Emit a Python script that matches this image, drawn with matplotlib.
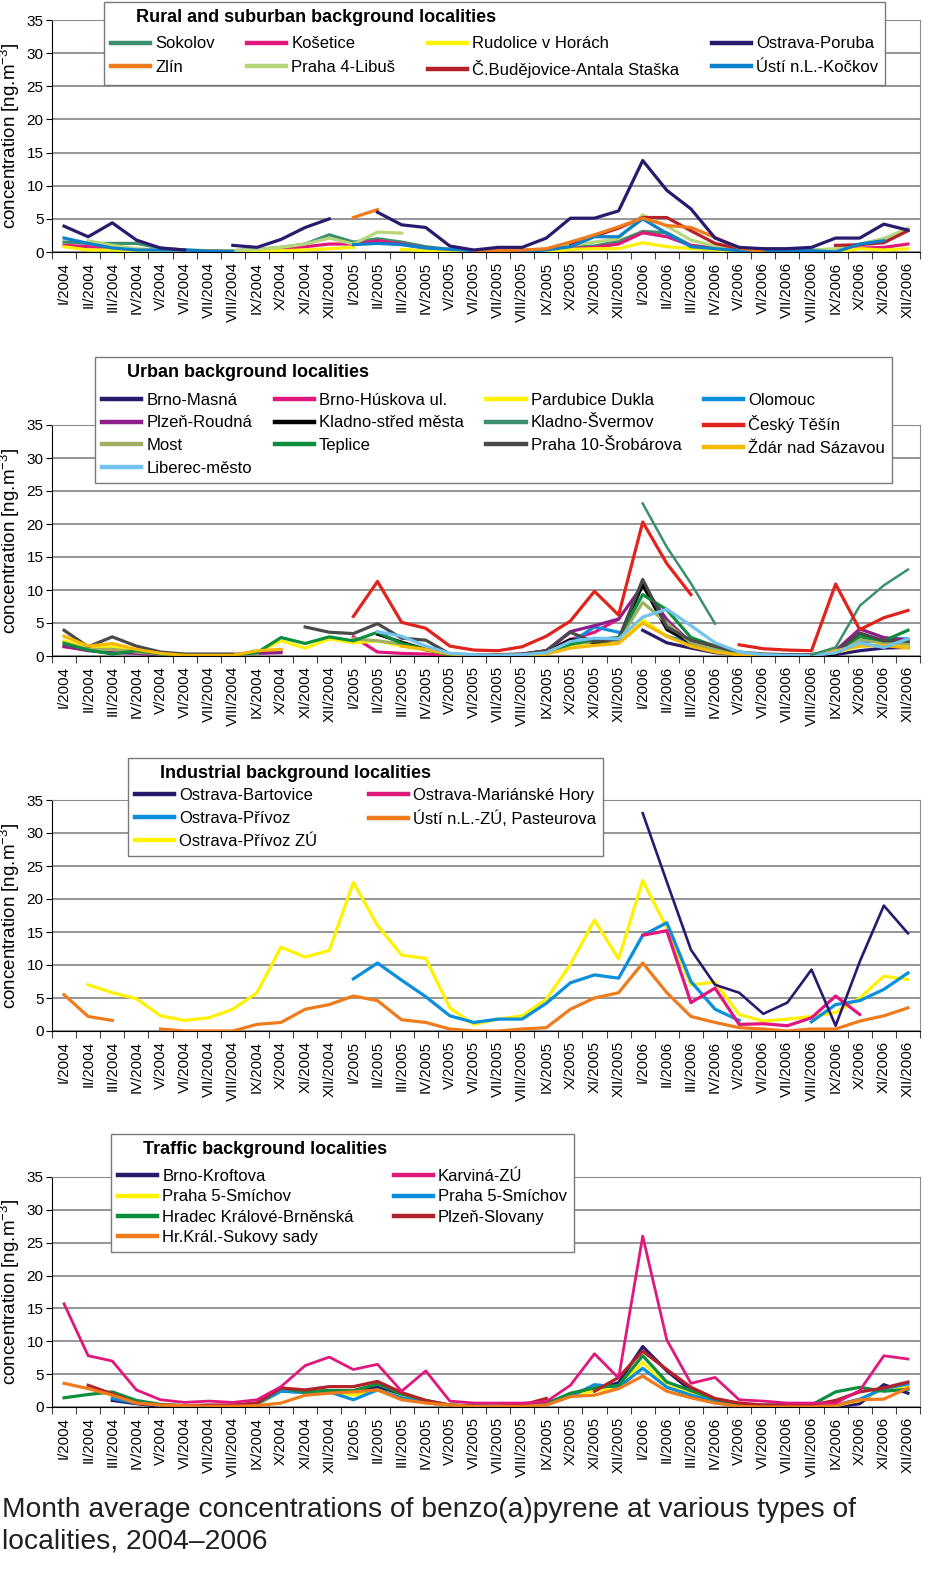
import numpy as np
import matplotlib
matplotlib.use('Agg')
import matplotlib.pyplot as plt

plt.rcParams['font.family'] = ['Liberation Sans', 'DejaVu Sans']
plt.rcParams['mathtext.default'] = 'regular'

nan = np.nan

roman = ['I', 'II', 'III', 'IV', 'V', 'VI', 'VII', 'VIII', 'IX', 'X', 'XI', 'XII']
years = [2004, 2005, 2006]
months = [r + '/' + str(y) for y in years for r in roman]

# --- rural and suburban background localities
sokolov = [1.5, 1.3, 1.3, 1.3, 0.6, 0.3, 0.2, 0.2, 0.4, 0.7, 1.2, 2.6,
           1.5, 2.0, 1.5, 0.8, 0.4, 0.2, 0.1, 0.2, 0.4, 0.8, 0.9, 1.6,
           3.1, 2.9, 1.0, 0.6, 0.3, 0.3, 0.2, 0.3, 0.3, 1.1, 2.0, 3.3]
zlin = [nan] * 12 + [5.2, 6.4, nan, nan, nan,
                     0.1, 0.2, 0.3, 0.5, 1.5, 2.6, 3.8,
                     5.1, 4.0, 3.7, 2.2, 0.6, 0.0] + [nan] * 6
kosetice = [1.0, 0.8, 0.6, 0.3, 0.2, 0.1, 0.1, 0.1, 0.3, 0.5, 0.8, 1.2,
            1.2, 1.7, 1.2, 0.6, 0.3, 0.1, 0.1, 0.2, 0.3, 0.5, 0.7, 1.2,
            2.9, 2.3, 1.0, 0.5, 0.3, 0.2, 0.2, 0.2, 0.3, 0.6, 0.7, 1.2]
praha4 = [nan, 1.7, 1.0, 0.5, 0.3, 0.2, 0.1, 0.2, 0.4, 0.7, 1.2, 2.1,
          1.2, 3.0, 2.85, nan, nan, nan, nan, nan, 0.4, 1.0, 1.5, 2.0,
          5.6, 3.9, 1.8, 0.9, 0.4, 0.2, 0.2, 0.3, 0.5, 1.2, 2.0, 3.6]
rudolice = [0.8, 0.3, 0.3, 0.1, 0.1, 0.0, 0.0, 0.0, 0.2, 0.2, 0.3, 0.5,
            0.7, nan, 0.4, 0.2, 0.0, 0.0, 0.0, 0.0, 0.0, 0.4, 0.5, 0.5,
            1.4, 0.8, 0.5, 0.3, 0.1, 0.1, 0.0, 0.0, 0.0, 0.5, 0.3, 0.5]
budejovice = [nan] * 21 + [1.2, 2.4, 3.6, 5.2, 5.2, 3.2, 1.3, 0.5,
                           nan, nan, nan, 1.0, 1.1, 1.4, 3.2]
poruba = [3.9, 2.3, 4.4, 1.8, 0.6, 0.3, nan, 1.0, 0.7, 1.9, 3.7, 5.0,
          nan, 6.0, 4.1, 3.7, 0.9, 0.3, 0.7, 0.7, 2.1, 5.1, 5.1, 6.2,
          13.8, 9.3, 6.5, 2.1, 0.7, 0.5, 0.5, 0.7, 2.1, 2.1, 4.2, 3.3]
kockov = [2.1, 1.3, 0.6, 0.3, 0.3, 0.3, 0.1, 0.1, nan, nan, nan, nan,
          1.1, 1.3, 1.1, 0.6, 0.4, 0.2, 0.1, 0.1, 0.3, 0.8, 2.3, 2.3,
          5.0, 2.8, 0.8, 0.5, 0.2, 0.2, 0.2, 0.2, 0.0, 1.2, 1.7, nan]

# --- urban background localities
brno_masna = [nan] * 24 + [3.9, 2.0, 1.2, 0.5, 0.2, 0.1, 0.0, 0.0, 0.2, 0.8, 1.2, 1.3]
brno_huskova = [1.4, 0.9, 1.0, 0.5, 0.2, 0.1, 0.1, 0.2, 0.6, 0.9, nan, nan,
                2.9, 0.6, 0.4, 0.3, 0.1, 0.1, 0.1, 0.3, 0.8, 2.5, 3.6, 5.6] + [nan] * 12
pardubice = [2.3, 1.2, 1.5, 0.6, 0.2, 0.1, 0.1, 0.1, 0.5, 2.3, 1.2, 2.6,
             2.0, 2.3, 1.5, 1.0, 0.2, 0.1, 0.1, 0.2, 0.4, 1.5, 2.0, 2.2,
             5.5, 3.0, 1.5, 0.7, 0.2, 0.1, 0.0, 0.0, 0.5, 1.5, 1.8, 1.6]
olomouc = [nan] * 20 + [0.8, 2.0, 4.4, 3.6,
                        nan, 3.0, 2.0, 1.3, 0.5, 0.2, 0.1, 0.1, 0.6, 2.0, 2.6, 2.6]
plzen_roudna = [1.5, 0.8, 0.5, 0.4, 0.1, 0.0, 0.0, 0.0, 0.4, 0.5, nan, nan,
                nan, nan, nan, nan, 0.1, 0.1, 0.1, 0.2, 0.8, 3.7, 4.6, 5.6,
                10.7, 5.5, 2.0, 1.0, 0.4, 0.1, 0.1, 0.2, 0.8, 4.1, 2.8, 2.4]
kladno_stred = [nan] * 13 + [3.3, 2.1, 1.0, 0.2, 0.1, 0.1, 0.2, 0.5, 2.5, 2.0, 2.5,
                             10.8, 4.0, 2.0, 1.2, 0.5, 0.2, 0.1, 0.1, 0.3, 3.0, 2.2, 2.0]
kladno_svermov = [nan] * 24 + [23.1, 16.5, 11.0, 4.9, nan, nan, nan,
                               0.2, 1.3, 7.6, 10.7, 13.1]
cesky_tesin = [nan] * 12 + [6.0, 11.3, 5.1, 4.2, 1.5, 0.9, 0.8, 1.4, 3.0, 5.3, 9.8, 6.2,
                            20.3, 14.0, 9.3, nan, 1.7, 1.1, 0.9, 0.8, 10.9, 4.0, 5.8, 6.9]
most = [2.0, 1.0, 1.0, 0.6, 0.3, 0.1, 0.1, 0.1, 0.4, nan, nan, nan,
        2.6, 2.3, 1.8, 0.9, 0.2, 0.1, 0.1, 0.2, 0.5, 1.8, 2.2, 2.4,
        8.1, 5.0, 2.0, 1.0, 0.3, 0.1, 0.1, 0.1, 0.5, 2.5, 2.0, 1.8]
teplice = [1.9, 0.9, 0.3, 0.8, 0.3, 0.1, 0.1, 0.2, 0.5, 2.8, 1.9, 2.9,
           2.3, 3.6, 1.9, 1.0, 0.2, 0.1, 0.1, 0.2, 0.4, 1.8, 2.5, 2.8,
           9.3, 7.0, 2.8, 1.5, 0.5, 0.2, 0.1, 0.1, 0.7, 3.0, 2.3, 3.9]
praha10 = [3.9, 1.4, 2.9, 1.5, 0.6, 0.3, 0.3, 0.3, nan, nan, 4.4, 3.6,
           3.4, 4.9, 2.7, 2.4, 0.3, 0.2, 0.2, 0.3, 0.8, 3.6, 2.1, 2.6,
           11.6, 4.4, 2.4, 1.5, 0.6, 0.3, 0.2, 0.2, 0.5, 3.5, 2.3, 2.3]
zdar = [3.0, 1.5, 1.9, 1.0, 0.4, 0.1, 0.1, 0.1, 0.8, 1.0, nan, nan,
        nan, nan, 1.5, 1.0, 0.3, 0.1, 0.1, 0.1, 0.3, 1.2, 1.6, 1.9,
        5.0, 3.0, 1.5, 0.6, 0.2, 0.1, 0.0, 0.0, 0.8, 1.5, 1.6, 1.2]
liberec = [nan] * 13 + [3.7, 3.0, 1.5, 0.4, 0.2, 0.1, 0.2, 0.5, 2.2, 2.7, 2.6,
                        5.9, 7.1, 4.6, 2.0, 0.6, 0.2, 0.1, 0.1, 0.5, 2.0, 1.3, 2.6]

# --- industrial background localities
bartovice = [nan] * 24 + [33.0, 22.6, 12.3, 7.0, 5.8, 2.6, 4.3, 9.3, 0.8, 10.5, 19.0, 14.8]
marianske_hory = [nan] * 24 + [14.5, 15.2, 4.3, 6.5, 1.0, 1.1, 0.8, 2.0, 5.3, 2.5, nan, nan]
privoz = [nan] * 12 + [7.9, 10.3, 7.7, 5.2, 2.3, 1.3, 1.8, 1.8, 4.2, 7.3, 8.5, 8.0,
                       14.5, 16.4, 7.5, 3.3, 1.6, nan, nan, 1.4, 4.0, 4.6, 6.3, 8.8]
usti_pasteurova = [5.5, 2.2, 1.6, nan, 0.3, 0.0, 0.0, 0.0, 1.0, 1.3, 3.3, 4.0,
                   5.3, 4.6, 1.7, 1.3, 0.3, 0.0, 0.0, 0.3, 0.5, 3.3, 5.0, 5.8,
                   10.3, 5.8, 2.2, 1.3, 0.5, 0.3, 0.0, 0.3, 0.3, 1.5, 2.3, 3.5]
privoz_zu = [nan, 7.0, 5.8, 4.9, 2.3, 1.6, 2.0, 3.3, 5.8, 12.7, 11.2, 12.2,
             22.5, 16.0, 11.5, 11.0, 3.5, 1.0, 1.8, 2.3, 4.8, 10.1, 16.8, 10.9,
             22.8, 15.6, 7.0, 7.4, 2.5, 1.5, 1.8, 2.2, 2.8, 5.0, 8.3, 7.8]

# --- traffic background localities
brno_kroftova = [nan, nan, 1.0, 0.5, 0.1, 0.0, 0.0, 0.1, 0.3, 2.5, 2.2, 2.5,
                 2.4, 3.0, 1.7, 0.7, 0.2, 0.1, 0.1, 0.1, 0.5, 1.8, 2.6, 3.7,
                 9.2, 5.5, 2.5, 1.0, 0.3, 0.1, 0.0, 0.0, 0.0, 0.5, 3.4, 2.1]
karvina = [15.7, 7.8, 7.0, 2.6, 1.1, 0.7, 0.9, 0.7, 1.1, 3.1, 6.3, 7.6,
           5.7, 6.5, 2.4, 5.5, 0.9, 0.6, 0.6, 0.6, 0.8, 3.3, 8.1, 4.4,
           26.0, 10.2, 3.6, 4.5, 1.1, 0.9, 0.6, 0.6, 0.6, 2.5, 7.8, 7.3]
praha5_y = [nan, nan, 1.5, 0.7, 0.3, 0.1, 0.1, 0.1, 0.3, 2.5, 2.2, 2.3,
            1.8, 2.6, 1.5, 0.7, 0.2, 0.1, 0.1, 0.1, 0.4, 1.6, 2.5, 3.0,
            6.8, 3.2, 2.0, 1.0, 0.3, 0.1, 0.1, 0.1, 0.2, 1.0, 2.8, 3.0]
praha5_b = [nan, nan, 1.3, 0.6, 0.3, 0.1, 0.1, 0.2, 0.5, 2.4, 2.2, 2.3,
            1.1, 2.6, 1.4, 0.7, 0.3, 0.2, 0.1, 0.2, 0.4, 1.6, 3.4, 3.0,
            5.9, 3.0, 1.8, 0.9, 0.3, 0.2, 0.1, 0.1, 0.3, 1.2, 2.8, 3.5]
hradec = [1.4, 1.9, 2.3, 1.0, 0.4, 0.2, 0.2, 0.2, 0.6, 2.9, 2.3, 2.5,
          2.5, 3.5, 2.0, 1.0, 0.3, 0.1, 0.1, 0.2, 0.5, 2.1, 2.9, 3.3,
          7.8, 3.8, 2.5, 1.2, 0.4, 0.3, 0.3, 0.3, 2.3, 3.0, 2.4, 2.7]
plzen_slovany = [nan, 3.3, 2.0, 0.6, 0.3, 0.2, 0.3, 0.3, 0.6, 2.9, 2.6, 3.1,
                 3.1, 3.9, 2.2, 1.0, 0.3, 0.1, 0.1, 0.3, 1.3, nan, 2.4, 4.5,
                 8.5, 5.7, 3.0, 1.3, 0.6, 0.3, 0.3, 0.3, 1.0, 2.3, 2.9, 3.8]
sukovy_sady = [3.6, 2.8, 1.8, 0.6, 0.3, 0.2, 0.1, 0.1, 0.2, 0.6, 1.8, 2.1,
               2.3, 2.6, 1.1, 0.6, 0.3, 0.1, 0.1, 0.1, 0.3, 1.6, 1.8, 2.8,
               4.7, 2.4, 1.4, 0.6, 0.1, 0.0, 0.0, 0.0, 0.3, 1.1, 1.2, 2.9]

x = np.arange(36)

fig = plt.figure(figsize=(9.5, 15.7), dpi=100)


def make_axes(top_px, bottom_px):
    # pixel rows of the 35 and 0 gridlines -> figure fractions
    ax = fig.add_axes([52 / 950, 1 - bottom_px / 1570, 868 / 950, (bottom_px - top_px) / 1570])
    ax.set_xlim(-0.5, 35.5)
    ax.set_ylim(0, 35)
    ax.set_yticks(range(0, 36, 5))
    ax.set_xticks(np.arange(-0.5, 36, 1))
    ax.set_xticklabels([])
    ax.set_xticks(x, minor=True)
    ax.set_xticklabels(months, minor=True, rotation=90, fontsize=10.8)
    ax.tick_params(axis='x', which='major', length=5, color='#444444')
    ax.tick_params(axis='x', which='minor', length=0, pad=7)
    ax.tick_params(axis='y', length=4, labelsize=11, pad=2)
    ax.yaxis.grid(True, color='#8c8c8c', lw=1.3)
    ax.set_axisbelow(True)
    ax.spines['top'].set_color('#8c8c8c')
    ax.spines['right'].set_color('#8c8c8c')
    ax.set_ylabel('concentration [ng.m$^{-3}$]', fontsize=13.5, labelpad=3)
    return ax


def add_legend(ax, handles, title, ncol, anchor, spacing, title_gap):
    leg = ax.legend(handles=handles, title='     ' + title, ncol=ncol, loc='upper left',
                    bbox_to_anchor=anchor, mode='expand', borderaxespad=0, fontsize=12,
                    title_fontproperties={'weight': 'bold', 'size': 13}, alignment='left',
                    frameon=True, fancybox=False, edgecolor='#7a7a7a', framealpha=1,
                    handlelength=2.35, handletextpad=0.3, labelspacing=spacing,
                    borderpad=0.42)
    leg.get_frame().set_linewidth(1)
    for line in leg.get_lines():
        line.set_linewidth(3.2)
    # gap (points) between the bold title and the first row of entries
    leg._legend_box.sep = title_gap
    leg.set_zorder(5)


# ---------------- rural
ax1 = make_axes(20, 252)
l = {}
l['Sokolov'], = ax1.plot(x, sokolov, color='#3b8f6c', lw=2.3, label='Sokolov')
l['Košetice'], = ax1.plot(x, kosetice, color='#e0177d', lw=2.3, label='Košetice')
l['Rudolice'], = ax1.plot(x, rudolice, color='#fff200', lw=2.3, label='Rudolice v Horách')
l['Praha4'], = ax1.plot(x, praha4, color='#b7d87a', lw=2.3, label='Praha 4-Libuš')
l['Budejovice'], = ax1.plot(x, budejovice, color='#b3222a', lw=2.3, label='Č.Budějovice-Antala Staška')
l['Kockov'], = ax1.plot(x, kockov, color='#0b80cc', lw=2.3, label='Ústí n.L.-Kočkov')
l['Zlin'], = ax1.plot(x, zlin, color='#f07b1c', lw=2.3, label='Zlín')
l['Poruba'], = ax1.plot(x, poruba, color='#2a1a6e', lw=2.3, label='Ostrava-Poruba')
add_legend(ax1, [l['Sokolov'], l['Zlin'], l['Košetice'], l['Praha4'],
                 l['Rudolice'], l['Budejovice'], l['Poruba'], l['Kockov']],
           'Rural and suburban background localities', 4,
           ((104 - 52) / 868, 0, (885 - 104) / 868, 250 / 232), 0.52, 7.5)

# ---------------- urban
ax2 = make_axes(425, 656)
u = {}
u['masna'], = ax2.plot(x, brno_masna, color='#2a1a6e', lw=2.3, label='Brno-Masná')
u['huskova'], = ax2.plot(x, brno_huskova, color='#e0177d', lw=2.3, label='Brno-Húskova ul.')
u['pardubice'], = ax2.plot(x, pardubice, color='#fff200', lw=2.3, label='Pardubice Dukla')
u['olomouc'], = ax2.plot(x, olomouc, color='#0a8fdc', lw=2.3, label='Olomouc')
u['plzen'], = ax2.plot(x, plzen_roudna, color='#8c1f8c', lw=2.3, label='Plzeň-Roudná')
u['kladno'], = ax2.plot(x, kladno_stred, color='#000000', lw=2.3, label='Kladno-střed města')
u['most'], = ax2.plot(x, most, color='#9fae62', lw=2.3, label='Most')
u['teplice'], = ax2.plot(x, teplice, color='#0b8f3e', lw=2.3, label='Teplice')
u['praha10'], = ax2.plot(x, praha10, color='#4a4a4a', lw=2.3, label='Praha 10-Šrobárova')
u['zdar'], = ax2.plot(x, zdar, color='#f6b800', lw=2.3, label='Ždár nad Sázavou')
u['liberec'], = ax2.plot(x, liberec, color='#74c2ee', lw=2.3, label='Liberec-město')
u['svermov'], = ax2.plot(x, kladno_svermov, color='#3b8f6c', lw=1.8, label='Kladno-Švermov')
u['tesin'], = ax2.plot(x, cesky_tesin, color='#e0231c', lw=2.3, label='Český Těšín')
add_legend(ax2, [u['masna'], u['plzen'], u['most'], u['liberec'],
                 u['huskova'], u['kladno'], u['teplice'],
                 u['pardubice'], u['svermov'], u['praha10'],
                 u['olomouc'], u['tesin'], u['zdar']],
           'Urban background localities', 4,
           ((95 - 52) / 868, 0, (892 - 95) / 868, (656 - 357) / 231), 0.46, 8.5)

# ---------------- industrial
ax3 = make_axes(800, 1031)
d = {}
d['usti'], = ax3.plot(x, usti_pasteurova, color='#f07b1c', lw=2.3, label='Ústí n.L.-ZÚ, Pasteurova')
d['zu'], = ax3.plot(x, privoz_zu, color='#fff200', lw=2.3, label='Ostrava-Přívoz ZÚ')
d['privoz'], = ax3.plot(x, privoz, color='#0a8fdc', lw=2.3, label='Ostrava-Přívoz')
d['mh'], = ax3.plot(x, marianske_hory, color='#e0177d', lw=2.3, label='Ostrava-Mariánské Hory')
d['bart'], = ax3.plot(x, bartovice, color='#2a1a6e', lw=1.9, label='Ostrava-Bartovice')
add_legend(ax3, [d['bart'], d['privoz'], d['zu'], d['mh'], d['usti']],
           'Industrial background localities', 2,
           ((128 - 52) / 868, 0, (603 - 128) / 868, (1031 - 758) / 231), 0.49, 4.0)

# ---------------- traffic
ax4 = make_axes(1177, 1407)
t = {}
t['kroftova'], = ax4.plot(x, brno_kroftova, color='#2a1a6e', lw=2.3, label='Brno-Kroftova')
t['p5y'], = ax4.plot(x, praha5_y, color='#fff200', lw=2.3, label='Praha 5-Smíchov')
t['p5b'], = ax4.plot(x, praha5_b, color='#0a8fdc', lw=2.3, label='Praha 5-Smíchov')
t['hradec'], = ax4.plot(x, hradec, color='#0b8f3e', lw=2.3, label='Hradec Králové-Brněnská')
t['slovany'], = ax4.plot(x, plzen_slovany, color='#b3222a', lw=2.3, label='Plzeň-Slovany')
t['sukovy'], = ax4.plot(x, sukovy_sady, color='#f07b1c', lw=2.3, label='Hr.Král.-Sukovy sady')
t['karvina'], = ax4.plot(x, karvina, color='#e0177d', lw=2.0, label='Karviná-ZÚ')
add_legend(ax4, [t['kroftova'], t['p5y'], t['hradec'], t['sukovy'],
                 t['karvina'], t['p5b'], t['slovany']],
           'Traffic background localities', 2,
           ((111 - 52) / 868, 0, (574 - 111) / 868, (1407 - 1134) / 230), 0.32, 8.0)

fig.text(0.002, 1 - 1510 / 1570, 'Month average concentrations of benzo(a)pyrene at various types of',
         fontsize=20.3, va='center', ha='left', color='#231f20')
fig.text(0.002, 1 - 1541 / 1570, 'localities, 2004–2006',
         fontsize=20.3, va='center', ha='left', color='#231f20')

fig.savefig('out.png', dpi=100)
